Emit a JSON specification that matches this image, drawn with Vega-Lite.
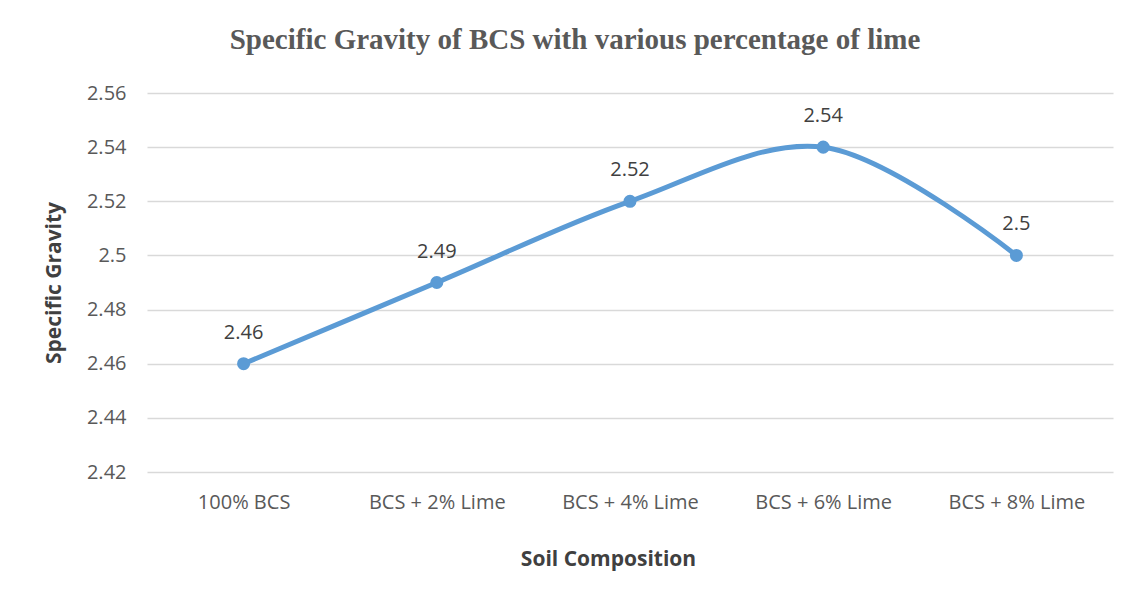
{
  "$schema": "https://vega.github.io/schema/vega-lite/v6.json",
  "autosize": "none",
  "width": 966,
  "height": 379,
  "padding": {"left": 147, "top": 93, "right": 22, "bottom": 118},
  "background": "white",
  "title": {
    "text": "Specific Gravity of BCS with various percentage of lime",
    "font": "Liberation Serif",
    "fontSize": 29,
    "fontWeight": "bold",
    "color": "#595959",
    "anchor": "middle",
    "dx": -55,
    "offset": 28
  },
  "data": {
    "values": [
      {"composition": "100% BCS", "sg": 2.46},
      {"composition": "BCS + 2% Lime", "sg": 2.49},
      {"composition": "BCS + 4% Lime", "sg": 2.52},
      {"composition": "BCS + 6% Lime", "sg": 2.54},
      {"composition": "BCS + 8% Lime", "sg": 2.5}
    ]
  },
  "encoding": {
    "x": {
      "field": "composition",
      "type": "nominal",
      "sort": null,
      "scale": {"type": "point", "padding": 0.5},
      "axis": {
        "title": "Soil Composition",
        "labelAngle": 0,
        "labelFont": "Open Sans",
        "labelFontSize": 20,
        "labelColor": "#595959",
        "labelPadding": 20,
        "domain": false,
        "ticks": false,
        "grid": false,
        "titleFont": "Open Sans",
        "titleFontSize": 21,
        "titleFontWeight": "bold",
        "titleColor": "#404040",
        "titlePadding": 36,
        "titleX": 461
      }
    },
    "y": {
      "field": "sg",
      "type": "quantitative",
      "scale": {"domain": [2.42, 2.56], "zero": false, "nice": false},
      "axis": {
        "title": "Specific Gravity",
        "values": [2.42, 2.44, 2.46, 2.48, 2.5, 2.52, 2.54, 2.56],
        "format": "~g",
        "labelFont": "Open Sans",
        "labelFontSize": 20,
        "labelColor": "#595959",
        "labelPadding": 21,
        "domain": false,
        "ticks": false,
        "grid": true,
        "gridColor": "#d9d9d9",
        "gridWidth": 1.5,
        "titleFont": "Open Sans",
        "titleFontSize": 21,
        "titleFontWeight": "bold",
        "titleColor": "#404040",
        "titlePadding": 22
      }
    }
  },
  "layer": [
    {
      "mark": {"type": "line", "interpolate": "catmull-rom", "color": "#5B9BD5", "strokeWidth": 5}
    },
    {
      "mark": {"type": "point", "filled": true, "color": "#5B9BD5", "size": 170, "opacity": 1}
    },
    {
      "mark": {"type": "text", "dy": -31, "font": "Open Sans", "fontSize": 20, "color": "#404040"},
      "encoding": {"text": {"field": "sg", "type": "quantitative", "format": "~g"}}
    }
  ],
  "config": {"view": {"stroke": null}}
}
